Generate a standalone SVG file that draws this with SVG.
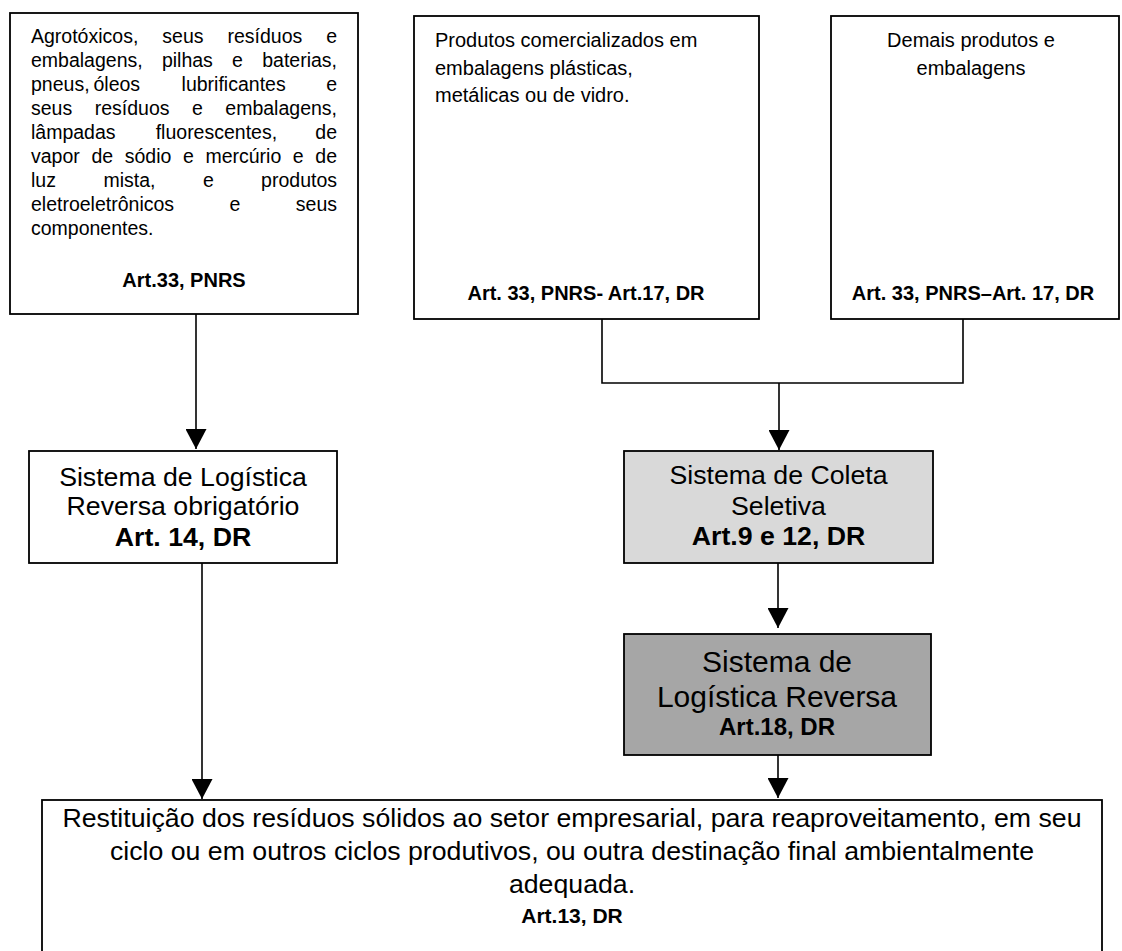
<svg xmlns="http://www.w3.org/2000/svg" width="1122" height="951" viewBox="0 0 1122 951">
  <style>
    .box { fill: #ffffff; stroke: #000000; stroke-width: 1.8; }
    .light { fill: #d9d9d9; }
    .dark { fill: #a6a6a6; }
    .t { font-family: "Liberation Sans", Arial, sans-serif; fill: #000000; }
    .s19 { font-size: 19.5px; }
    .s20 { font-size: 20px; }
    .s27 { font-size: 26.7px; }
    .s30 { font-size: 30px; }
    .b { font-weight: bold; }
    .mid { text-anchor: middle; }
    .end { text-anchor: end; }
    .wire { fill: none; stroke: #000000; stroke-width: 1.6; }
  </style>
  <defs>
    <marker id="arrow" markerUnits="userSpaceOnUse" markerWidth="20" markerHeight="21" refX="20" refY="10.5" orient="auto">
      <path d="M0,0 L20,10.5 L0,21 Z" fill="#000000"/>
    </marker>
  </defs>

  <rect width="1122" height="951" fill="#ffffff"/>

  <!-- connectors -->
  <g id="connectors">
    <path class="wire" d="M196,314 V449" marker-end="url(#arrow)"/>
    <path class="wire" d="M602,319 V383 H963 V319"/>
    <path class="wire" d="M779,383 V450" marker-end="url(#arrow)"/>
    <path class="wire" d="M778,563 V628" marker-end="url(#arrow)"/>
    <path class="wire" d="M202,563 V799" marker-end="url(#arrow)"/>
    <path class="wire" d="M778,755 V798" marker-end="url(#arrow)"/>
  </g>

  <!-- products subject to mandatory reverse logistics (justified paragraph) -->
  <g id="node-agrotoxicos">
    <rect class="box" x="10" y="13" width="348" height="301"/>
    <text class="t s19" y="42.5"><tspan x="31">Agrotóxicos,</tspan><tspan x="162.3">seus</tspan><tspan x="227.5">resíduos</tspan><tspan x="337" text-anchor="end">e</tspan></text>
    <text class="t s19" y="66.5"><tspan x="31">embalagens,</tspan><tspan x="161.9">pilhas</tspan><tspan x="232.1">e</tspan><tspan x="337" text-anchor="end">baterias,</tspan></text>
    <text class="t s19" y="90.5"><tspan x="31">pneus,</tspan><tspan x="93.5">óleos</tspan><tspan x="181.6">lubrificantes</tspan><tspan x="337" text-anchor="end">e</tspan></text>
    <text class="t s19" y="114.5"><tspan x="31">seus</tspan><tspan x="94.7">resíduos</tspan><tspan x="192">e</tspan><tspan x="337" text-anchor="end">embalagens,</tspan></text>
    <text class="t s19" y="138.5"><tspan x="31">lâmpadas</tspan><tspan x="155.7">fluorescentes,</tspan><tspan x="337" text-anchor="end">de</tspan></text>
    <text class="t s19" x="31" y="162.5" word-spacing="6.2">vapor de sódio e mercúrio e de</text>
    <text class="t s19" y="186.5"><tspan x="31">luz</tspan><tspan x="103.4">mista,</tspan><tspan x="202.9">e</tspan><tspan x="337" text-anchor="end">produtos</tspan></text>
    <text class="t s19" y="210.5"><tspan x="31">eletroeletrônicos</tspan><tspan x="229.5">e</tspan><tspan x="337" text-anchor="end">seus</tspan></text>
    <text class="t s19" x="31" y="234.5">componentes.</text>
    <text class="t s20 b mid" x="184" y="287">Art.33, PNRS</text>
  </g>

  <!-- packaged products -->
  <g id="node-embalagens">
    <rect class="box" x="414" y="16" width="345" height="303"/>
    <text class="t s20" x="435" y="47">Produtos comercializados em</text>
    <text class="t s20" x="435" y="74.5">embalagens plásticas,</text>
    <text class="t s20" x="435" y="102">metálicas ou de vidro.</text>
    <text class="t s20 b mid" x="586" y="300">Art. 33, PNRS- Art.17, DR</text>
  </g>

  <!-- other products -->
  <g id="node-demais">
    <rect class="box" x="831" y="16" width="288" height="303"/>
    <text class="t s20 mid" x="971" y="47">Demais produtos e</text>
    <text class="t s20 mid" x="971" y="74.5">embalagens</text>
    <text class="t s20 b mid" x="973" y="300">Art. 33, PNRS–Art. 17, DR</text>
  </g>

  <!-- mandatory reverse logistics system -->
  <g id="node-logistica-obrigatoria">
    <rect class="box" x="29" y="451" width="308" height="112"/>
    <text class="t s27 mid" x="183" y="486">Sistema de Logística</text>
    <text class="t s27 mid" x="183" y="515">Reversa obrigatório</text>
    <text class="t s27 b mid" x="183" y="546">Art. 14, DR</text>
  </g>

  <!-- selective collection -->
  <g id="node-coleta">
    <rect class="box light" x="624" y="451" width="309" height="112"/>
    <text class="t s27 mid" x="778.5" y="484">Sistema de Coleta</text>
    <text class="t s27 mid" x="778.5" y="515">Seletiva</text>
    <text class="t s27 b mid" x="778.5" y="545">Art.9 e 12, DR</text>
  </g>

  <!-- reverse logistics system -->
  <g id="node-logistica">
    <rect class="box dark" x="624" y="634" width="307" height="121"/>
    <text class="t s30 mid" x="777" y="672">Sistema de</text>
    <text class="t s30 mid" x="777" y="707">Logística Reversa</text>
    <text class="t b mid" x="777" y="735" style="font-size:24px">Art.18, DR</text>
  </g>

  <!-- return to the business sector -->
  <g id="node-restituicao">
    <rect class="box" x="42" y="800" width="1060" height="160"/>
    <text class="t s27 mid" x="572" y="827">Restituição dos resíduos sólidos ao setor empresarial, para reaproveitamento, em seu</text>
    <text class="t s27 mid" x="572" y="860">ciclo ou em outros ciclos produtivos, ou outra destinação final ambientalmente</text>
    <text class="t s27 mid" x="572" y="893">adequada.</text>
    <text class="t b mid" x="572" y="923" style="font-size:21px">Art.13, DR</text>
  </g>
</svg>
